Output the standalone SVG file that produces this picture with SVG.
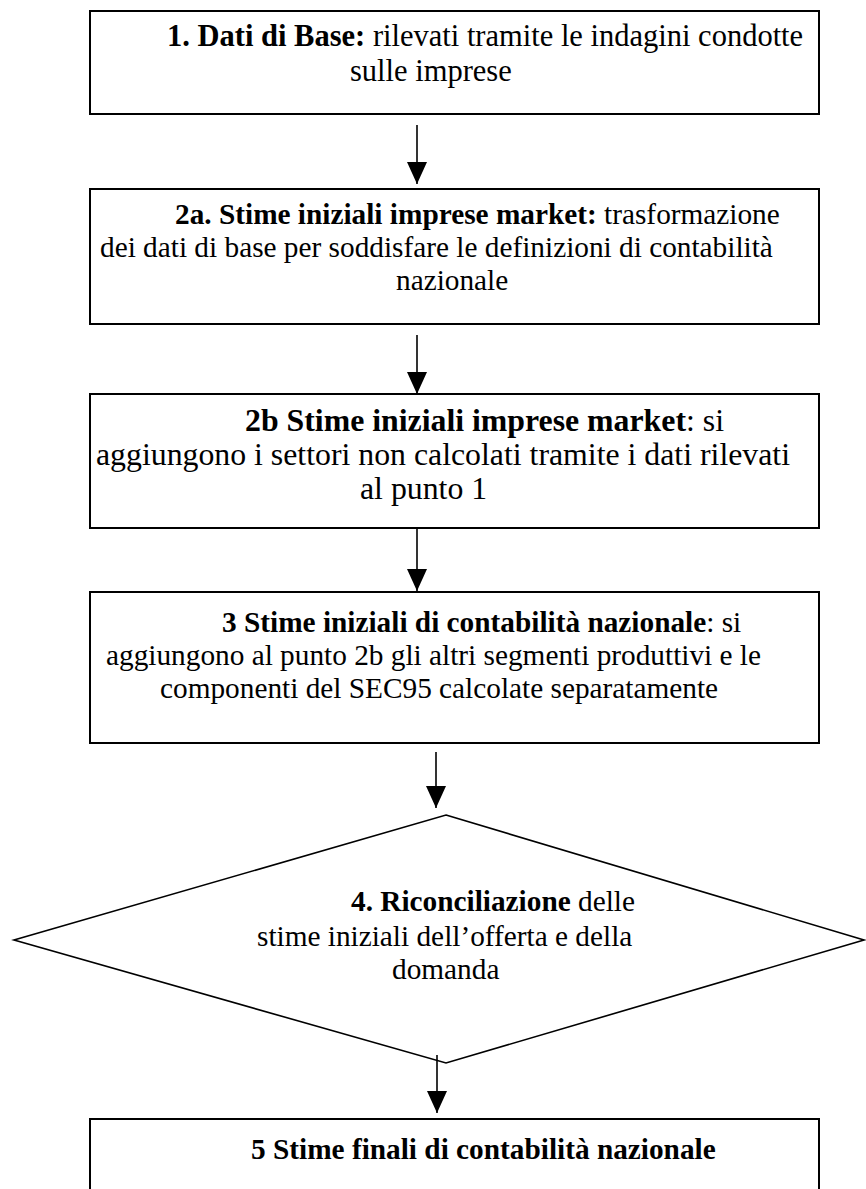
<svg xmlns="http://www.w3.org/2000/svg" width="866" height="1189" viewBox="0 0 866 1189">
  <style>
    .box { fill: #ffffff; stroke: #000000; stroke-width: 2; }
    .dia { fill: #ffffff; stroke: #000000; stroke-width: 1.6; }
    .t { font-family: "Liberation Serif", "Times New Roman", serif; font-size: 29.3px; fill: #000000; }
    .t1 { font-size: 30.5px; }
    .t3 { font-size: 31.8px; }
    .b { font-weight: bold; }
    .conn { stroke: #000000; stroke-width: 1.6; fill: none; marker-end: url(#ah); }
  </style>
  <defs>
    <marker id="ah" markerUnits="userSpaceOnUse" markerWidth="22" markerHeight="20" refX="22" refY="10" orient="auto">
      <path d="M0,0 L22,10 L0,20 z" fill="#000000"/>
    </marker>
  </defs>
  <rect width="866" height="1189" fill="#ffffff"/>

  <!-- step 1 -->
  <g id="n1">
    <rect class="box" x="90" y="11" width="729" height="103"/>
    <text class="t t1" x="167" y="46"><tspan class="b">1. Dati di Base:</tspan> rilevati tramite le indagini condotte</text>
    <text class="t t1" x="350" y="81">sulle imprese</text>
  </g>

  <!-- step 2a -->
  <g id="n2a">
    <rect class="box" x="90" y="189" width="729" height="135"/>
    <text class="t" x="175" y="224"><tspan class="b">2a. Stime iniziali imprese market:</tspan> trasformazione</text>
    <text class="t" x="100" y="257">dei dati di base per soddisfare le definizioni di contabilità</text>
    <text class="t" x="396" y="290">nazionale</text>
  </g>

  <!-- step 2b -->
  <g id="n2b">
    <rect class="box" x="90" y="394" width="729" height="134"/>
    <text class="t t3" x="245" y="431"><tspan class="b">2b Stime iniziali imprese market</tspan>: si</text>
    <text class="t t3" x="96" y="465">aggiungono i settori non calcolati tramite i dati rilevati</text>
    <text class="t t3" x="360" y="499">al punto 1</text>
  </g>

  <!-- step 3 -->
  <g id="n3">
    <rect class="box" x="90" y="592" width="729" height="151"/>
    <text class="t" x="222" y="632"><tspan class="b">3 Stime iniziali di contabilità nazionale</tspan>: si</text>
    <text class="t" x="106" y="665">aggiungono al punto 2b gli altri segmenti produttivi e le</text>
    <text class="t" x="160" y="698">componenti del SEC95 calcolate separatamente</text>
  </g>

  <!-- step 4: reconciliation -->
  <g id="n4">
    <polygon class="dia" points="446,815 864,940 446,1063 14,940"/>
    <text class="t" x="351" y="911"><tspan class="b">4. Riconciliazione</tspan> delle</text>
    <text class="t" x="257" y="946">stime iniziali dell’offerta e della</text>
    <text class="t" x="392" y="979">domanda</text>
  </g>

  <!-- step 5 -->
  <g id="n5">
    <rect class="box" x="90" y="1119" width="729" height="90"/>
    <text class="t b" x="251" y="1159">5 Stime finali di contabilità nazionale</text>
  </g>

  <!-- connectors -->
  <g id="connectors">
    <line class="conn" x1="417" y1="125" x2="417" y2="184"/>
    <line class="conn" x1="417" y1="335" x2="417" y2="394"/>
    <line class="conn" x1="417" y1="528" x2="417" y2="591"/>
    <line class="conn" x1="436" y1="752" x2="436" y2="808"/>
    <line class="conn" x1="437" y1="1055" x2="437" y2="1113"/>
  </g>
</svg>
